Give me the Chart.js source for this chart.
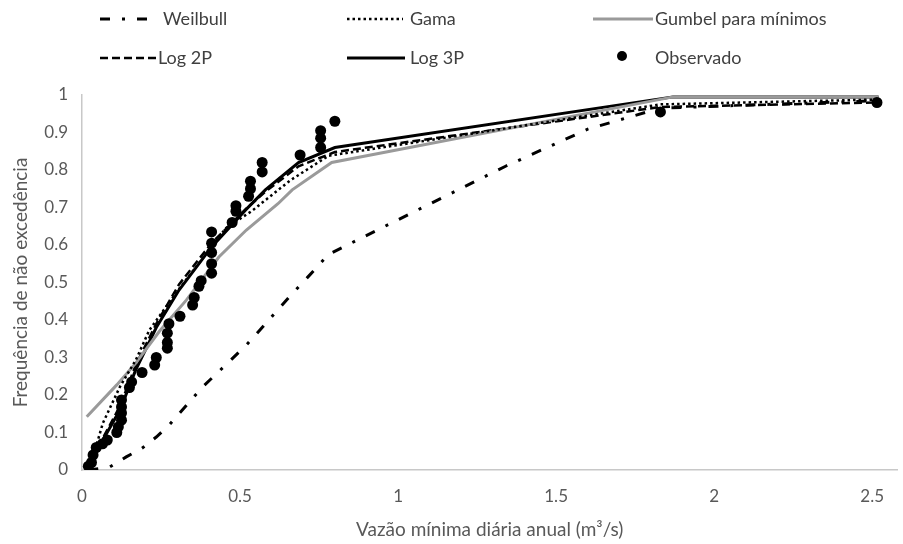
<!DOCTYPE html>
<html lang="pt-BR">
<head>
<meta charset="utf-8">
<title>Frequência de não excedência</title>
<script src="https://cdn.jsdelivr.net/npm/chart.js@4.4.1/dist/chart.umd.min.js"></script>
<style>
  html, body { margin: 0; padding: 0; background: #fff; }
  #wrap { position: relative; width: 903px; height: 544px; overflow: hidden; }
  #chart { position: absolute; left: 0; top: 0; }
  .amostra, .rotulo { position: absolute; transform: translateY(-50%); }
  .rotulo { font-family: Lato, sans-serif; font-size: 18px; color: #404040; white-space: nowrap; line-height: 20px; }
</style>
</head>
<body>
<div id="wrap">
  <canvas id="chart" width="903" height="544"></canvas>
  <div id="legenda"></div>
</div>
<script>
// Pontos observados (vazão, frequência)
const xObservado = [0.02, 0.03, 0.035, 0.045, 0.065, 0.08, 0.11, 0.115, 0.125, 0.125, 0.125, 0.125,
  0.15, 0.157, 0.19, 0.23, 0.235, 0.27, 0.27, 0.27, 0.275, 0.31, 0.35, 0.355, 0.37, 0.377,
  0.41, 0.41, 0.41, 0.41, 0.41, 0.475, 0.487, 0.487, 0.527, 0.533, 0.533, 0.57, 0.57,
  0.69, 0.755, 0.755, 0.755, 0.80, 1.83, 2.515];
const yObservado = [0.01, 0.02, 0.04, 0.06, 0.07, 0.08, 0.10, 0.115, 0.133, 0.152, 0.168, 0.187,
  0.22, 0.235, 0.26, 0.28, 0.30, 0.325, 0.34, 0.365, 0.39, 0.41, 0.44, 0.46, 0.49, 0.505,
  0.525, 0.55, 0.58, 0.605, 0.635, 0.66, 0.69, 0.705, 0.73, 0.75, 0.77, 0.795, 0.82,
  0.84, 0.86, 0.885, 0.905, 0.93, 0.955, 0.98];

// Curvas ajustadas
const xWeibull = [0.02, 0.088, 0.14, 0.19, 0.235, 0.276, 0.38, 0.52, 0.665, 0.715, 0.78, 1.34, 1.6, 1.83, 2.52];
const yWeibull = [0.0, 0.008, 0.035, 0.058, 0.088, 0.12, 0.22, 0.333, 0.47, 0.515, 0.575, 0.81, 0.909, 0.965, 0.985];

const xGama = [0.02, 0.035, 0.066, 0.12, 0.17, 0.213, 0.3, 0.455, 0.536, 0.66, 0.78, 1.83, 2.52];
const yGama = [0.0, 0.035, 0.125, 0.222, 0.293, 0.373, 0.475, 0.645, 0.69, 0.773, 0.838, 0.975, 0.988];

const xGumbel = [0.015, 0.11, 0.17, 0.245, 0.33, 0.433, 0.52, 0.62, 0.665, 0.79, 1.87, 2.52];
const yGumbel = [0.142, 0.227, 0.285, 0.37, 0.453, 0.568, 0.64, 0.71, 0.747, 0.82, 0.995, 0.995];

const xLog2P = [0.015, 0.066, 0.12, 0.17, 0.235, 0.307, 0.41, 0.517, 0.58, 0.685, 0.8, 1.83, 2.52];
const yLog2P = [0.005, 0.085, 0.17, 0.28, 0.39, 0.495, 0.605, 0.695, 0.742, 0.81, 0.848, 0.968, 0.98];

const xLog3P = [0.015, 0.066, 0.12, 0.17, 0.235, 0.307, 0.41, 0.517, 0.58, 0.685, 0.8, 1.87, 2.52];
const yLog3P = [0.0, 0.08, 0.16, 0.267, 0.38, 0.48, 0.595, 0.693, 0.747, 0.82, 0.86, 0.995, 0.995];

// Marcas dos eixos
const ticksX = [0, 0.5, 1, 1.5, 2, 2.5];
const ticksY = [0, 0.1, 0.2, 0.3, 0.4, 0.5, 0.6, 0.7, 0.8, 0.9, 1];

const FONTE = 'Lato, sans-serif';
const CINZA_TEXTO = '#595959';

function pontos(xs, ys) {
  return xs.map((x, i) => ({ x: x, y: ys[i] }));
}

function curva(label, xs, ys, cor, largura, traco) {
  return {
    label: label,
    data: pontos(xs, ys),
    showLine: true,
    borderColor: cor,
    backgroundColor: cor,
    borderWidth: largura,
    borderDash: traco,
    pointRadius: 0,
    tension: 0,
    order: 1
  };
}

const datasets = [
  curva('Weilbull', xWeibull, yWeibull, '#000000', 3, [10, 12, 3, 12]),
  curva('Gama', xGama, yGama, '#000000', 2.5, [2.5, 3]),
  curva('Gumbel para mínimos', xGumbel, yGumbel, '#9a9a9a', 3, []),
  curva('Log 2P', xLog2P, yLog2P, '#000000', 2.5, [8, 4]),
  curva('Log 3P', xLog3P, yLog3P, '#000000', 3, []),
  {
    label: 'Observado',
    data: pontos(xObservado, yObservado),
    showLine: false,
    pointRadius: 5.5,
    pointBackgroundColor: '#000000',
    pointBorderColor: '#000000',
    pointBorderWidth: 0,
    order: 0
  }
];

const ctx = document.getElementById('chart').getContext('2d');
const grafico = new Chart(ctx, {
  type: 'scatter',
  data: { datasets: datasets },
  options: {
    responsive: false,
    animation: false,
    layout: { padding: { top: 95, right: 0, bottom: 0, left: 0 } },
    plugins: {
      legend: { display: false },
      tooltip: { enabled: false }
    },
    scales: {
      x: {
        type: 'linear',
        min: 0,
        max: 2.58,
        grid: { display: false, drawTicks: false },
        border: { display: true, color: '#c8c8c8', width: 1.5 },
        ticks: { color: CINZA_TEXTO, font: { family: FONTE, size: 17 }, padding: 16, callback: v => String(v) },
        afterBuildTicks: s => { s.ticks = ticksX.map(v => ({ value: v })); },
        afterFit: s => { s.height = 74; },
        title: {
          display: true,
          text: 'Vazão mínima diária anual (m³/s)',
          color: CINZA_TEXTO,
          font: { family: FONTE, size: 19 },
          padding: { top: 0, bottom: 3 }
        }
      },
      y: {
        type: 'linear',
        min: 0,
        max: 1,
        grid: { display: false, drawTicks: false },
        border: { display: true, color: '#c8c8c8', width: 1.5 },
        ticks: { color: CINZA_TEXTO, font: { family: FONTE, size: 17 }, padding: 14, callback: v => String(v) },
        afterBuildTicks: s => { s.ticks = ticksY.map(v => ({ value: v })); },
        afterFit: s => { s.width = 82; },
        title: {
          display: true,
          text: 'Frequência de não excedência',
          color: CINZA_TEXTO,
          font: { family: FONTE, size: 19 },
          padding: { top: 9, bottom: 0 }
        }
      }
    }
  }
});

// Legenda em HTML (3 colunas x 2 linhas)
const posLegenda = [
  { sx: 100, sw: 48, tx: 163, y: 18 },
  { sx: 347, sw: 56, tx: 410, y: 18 },
  { sx: 593, sw: 60, tx: 655, y: 18 },
  { sx: 100, sw: 57, tx: 158, y: 57 },
  { sx: 347, sw: 58, tx: 410, y: 57 },
  { sx: 612, sw: 20, tx: 655, y: 57 }
];

const legenda = document.getElementById('legenda');
grafico.data.datasets.forEach((ds, i) => {
  const p = posLegenda[i];
  let svg;
  if (ds.showLine) {
    svg = '<svg width="' + p.sw + '" height="8"><line x1="0" y1="4" x2="' + p.sw + '" y2="4" stroke="' + ds.borderColor +
      '" stroke-width="' + ds.borderWidth + '" stroke-dasharray="' + (ds.borderDash.length ? ds.borderDash.join(' ') : 'none') + '"/></svg>';
  } else {
    svg = '<svg width="' + p.sw + '" height="12"><circle cx="' + (p.sw / 2) + '" cy="6" r="5" fill="#000"/></svg>';
  }
  const a = document.createElement('div');
  a.className = 'amostra';
  a.style.left = p.sx + 'px';
  a.style.top = p.y + 'px';
  a.innerHTML = svg;
  legenda.appendChild(a);

  const t = document.createElement('div');
  t.className = 'rotulo';
  t.style.left = p.tx + 'px';
  t.style.top = p.y + 'px';
  t.textContent = ds.label;
  legenda.appendChild(t);
});
</script>
</body>
</html>
